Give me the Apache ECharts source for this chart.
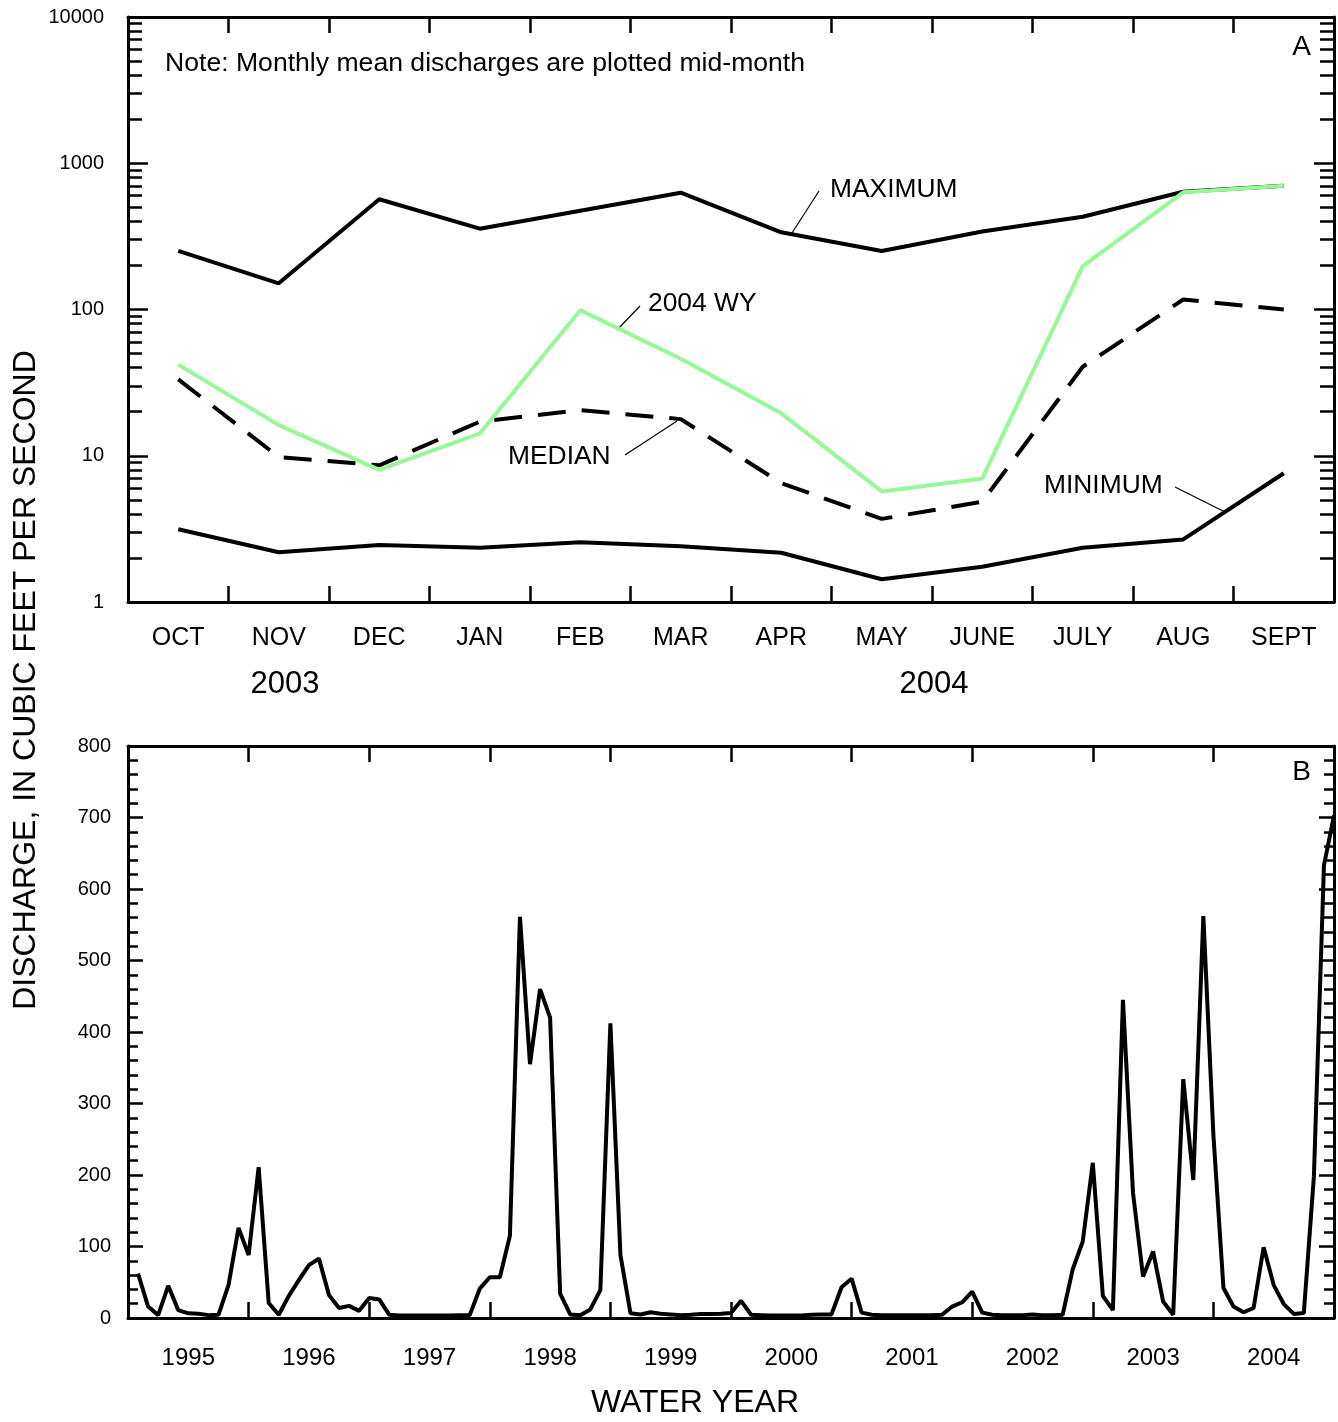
<!DOCTYPE html>
<html>
<head>
<meta charset="utf-8">
<script src="https://cdn.jsdelivr.net/npm/echarts@6/dist/echarts.min.js"></script>
<style>
html,body{margin:0;padding:0;background:#fff;}
#chart{width:1338px;height:1422px;}
</style>
</head>
<body>
<div id="chart"></div>
<script>
// ---------- DATA ----------
const months = ['OCT','NOV','DEC','JAN','FEB','MAR','APR','MAY','JUNE','JULY','AUG','SEPT'];
const maximum = [252, 151, 567, 357, 474, 629, 337, 251, 341, 431, 639, 703];
const wy2004  = [42, 16.2, 8.0, 14.2, 99, 46, 19.5, 5.7, 7.0, 198, 633, 703];
const median  = [33.3, 9.8, 8.6, 17.1, 20.5, 17.8, 6.5, 3.7, 4.85, 40.6, 117, 100];
const minimum = [3.14, 2.19, 2.45, 2.35, 2.56, 2.41, 2.17, 1.43, 1.74, 2.35, 2.68, 7.59];
const logMajorTicks = [1, 10, 100, 1000, 10000];
const logMinorTicks = [2,3,4,5,6,7,8,9, 20,30,40,50,60,70,80,90, 200,300,400,500,600,700,800,900, 2000,3000,4000,5000,6000,7000,8000,9000];

const waterYears = ['1995','1996','1997','1998','1999','2000','2001','2002','2003','2004'];
// Monthly mean discharge, Oct 1994 - Sep 2004 (one row per water year)
const monthlyDischarge = [
  62, 16, 4, 45, 11, 6.5, 6, 4, 4.5, 46, 126, 88,
  211, 21, 4.5, 31, 53, 74, 83, 32, 14, 17, 10, 28,
  26, 4.5, 3.5, 3.5, 3.5, 3.5, 3.5, 3.5, 4, 4, 41, 57,
  57, 115, 561, 355, 460, 420, 34, 5, 4, 12, 39, 412,
  88, 6.5, 5, 8, 6, 5, 4, 4.5, 5.5, 5.5, 6, 7,
  24, 4.5, 4, 3.5, 3.5, 3.5, 3.5, 4.5, 5, 5, 43, 55,
  7.5, 4.5, 4, 4, 4, 4, 4, 4, 4.5, 16, 22, 37,
  7.5, 4.5, 4, 4, 4, 5, 4, 4, 4.5, 68, 107, 217,
  31, 11, 445, 175, 58, 93, 23, 4.5, 334, 193, 562, 256,
  42, 16, 8, 14, 99, 46, 19.5, 5.7, 7, 198, 633, 703
];

// ---------- CHART ----------
const FONT = '"Liberation Sans", Arial, Helvetica, sans-serif';
const chart = echarts.init(document.getElementById('chart'), null, {renderer: 'canvas'});
const axLine = {show: true, onZero: false, lineStyle: {color: '#000', width: 3}};
const noLine = {show: false, onZero: false};
const tickStyle = {color: '#000', width: 2.5};
const LW = 4;

const seriesB = monthlyDischarge.map((v, i) => [i + 1, v]);

const option = {
  animation: false,
  backgroundColor: '#fff',
  textStyle: {fontFamily: FONT, color: '#000'},
  grid: [
    {left: 128, top: 17, width: 1206, height: 585, containLabel: false},
    {left: 128, top: 746, width: 1206, height: 572, containLabel: false}
  ],
  xAxis: [
    {gridIndex: 0, type: 'category', data: months, position: 'bottom', boundaryGap: true,
     axisLine: axLine, axisTick: {show: true, inside: true, length: 16, interval: 0, lineStyle: tickStyle},
     axisLabel: {show: true, interval: 0, fontSize: 25, color: '#000', fontFamily: FONT, margin: 24},
     splitLine: {show: false}},
    {gridIndex: 0, type: 'category', data: months, position: 'top', boundaryGap: true,
     axisLine: axLine, axisTick: {show: true, inside: true, length: 16, interval: 0, lineStyle: tickStyle},
     axisLabel: {show: false}, splitLine: {show: false}},
    {gridIndex: 1, type: 'value', min: 0, max: 120, interval: 12, position: 'bottom',
     axisLine: axLine, axisTick: {show: true, inside: true, length: 16, lineStyle: tickStyle},
     axisLabel: {show: false}, splitLine: {show: false}},
    {gridIndex: 1, type: 'value', min: 0, max: 120, interval: 12, position: 'top',
     axisLine: axLine, axisTick: {show: true, inside: true, length: 16, lineStyle: tickStyle},
     axisLabel: {show: false}, splitLine: {show: false}},
    {gridIndex: 1, type: 'category', data: waterYears, position: 'bottom', boundaryGap: true,
     axisLine: noLine, axisTick: {show: false},
     axisLabel: {show: true, interval: 0, fontSize: 24, color: '#000', fontFamily: FONT, margin: 28},
     splitLine: {show: false}}
  ],
  yAxis: [
    {gridIndex: 0, type: 'log', logBase: 10, min: 1, max: 10000, position: 'left',
     axisLine: axLine,
     axisTick: {show: true, inside: true, length: 20, lineStyle: tickStyle, customValues: logMajorTicks},
     axisLabel: {show: true, fontSize: 20, color: '#000', fontFamily: FONT, margin: 24,
                 customValues: logMajorTicks, formatter: v => String(Math.round(v))},
     splitLine: {show: false}},
    {gridIndex: 0, type: 'log', logBase: 10, min: 1, max: 10000, position: 'left',
     axisLine: noLine,
     axisTick: {show: true, inside: true, length: 14, lineStyle: tickStyle, customValues: logMinorTicks},
     axisLabel: {show: false}, splitLine: {show: false}},
    {gridIndex: 0, type: 'log', logBase: 10, min: 1, max: 10000, position: 'right',
     axisLine: axLine,
     axisTick: {show: true, inside: true, length: 20, lineStyle: tickStyle, customValues: logMajorTicks},
     axisLabel: {show: false}, splitLine: {show: false}},
    {gridIndex: 0, type: 'log', logBase: 10, min: 1, max: 10000, position: 'right',
     axisLine: noLine,
     axisTick: {show: true, inside: true, length: 14, lineStyle: tickStyle, customValues: logMinorTicks},
     axisLabel: {show: false}, splitLine: {show: false}},
    {gridIndex: 1, type: 'value', min: 0, max: 800, interval: 100, position: 'left',
     axisLine: axLine,
     axisTick: {show: true, inside: true, length: 15, lineStyle: tickStyle},
     minorTick: {show: true, splitNumber: 5, length: 10, lineStyle: {color: '#000', width: 2.5}},
     axisLabel: {show: true, fontSize: 20, color: '#000', fontFamily: FONT, margin: 17},
     splitLine: {show: false}, minorSplitLine: {show: false}},
    {gridIndex: 1, type: 'value', min: 0, max: 800, interval: 100, position: 'right',
     axisLine: axLine,
     axisTick: {show: true, inside: true, length: 15, lineStyle: tickStyle},
     minorTick: {show: true, splitNumber: 5, length: 10, lineStyle: {color: '#000', width: 2.5}},
     axisLabel: {show: false}, splitLine: {show: false}, minorSplitLine: {show: false}}
  ],
  series: [
    {name: 'MAXIMUM', type: 'line', xAxisIndex: 0, yAxisIndex: 0, data: maximum, symbol: 'none',
     lineStyle: {color: '#000', width: LW}, z: 2},
    {name: 'MINIMUM', type: 'line', xAxisIndex: 0, yAxisIndex: 0, data: minimum, symbol: 'none',
     lineStyle: {color: '#000', width: LW}, z: 2},
    {name: 'MEDIAN', type: 'line', xAxisIndex: 0, yAxisIndex: 0, data: median, symbol: 'none',
     lineStyle: {color: '#000', width: LW, type: [28, 16]}, z: 3},
    {name: '2004 WY', type: 'line', xAxisIndex: 0, yAxisIndex: 0, data: wy2004, symbol: 'none',
     lineStyle: {color: '#98F898', width: LW}, z: 4},
    {name: 'Monthly', type: 'line', xAxisIndex: 2, yAxisIndex: 4, data: seriesB, symbol: 'none',
     lineStyle: {color: '#000', width: LW}}
  ],
  graphic: [
    {type: 'text', x: 165, y: 64, style: {text: 'Note: Monthly mean discharges are plotted mid-month', font: '26.6px ' + FONT, fill: '#000', align: 'left', verticalAlign: 'middle'}},
    {type: 'text', x: 1311, y: 47, style: {text: 'A', font: '28px ' + FONT, fill: '#000', align: 'right', verticalAlign: 'middle'}},
    {type: 'text', x: 1311, y: 772, style: {text: 'B', font: '28px ' + FONT, fill: '#000', align: 'right', verticalAlign: 'middle'}},
    {type: 'text', x: 830, y: 190, style: {text: 'MAXIMUM', font: '26.4px ' + FONT, fill: '#000', align: 'left', verticalAlign: 'middle'}},
    {type: 'line', shape: {x1: 819, y1: 191, x2: 792, y2: 233}, style: {stroke: '#000', lineWidth: 1.2}},
    {type: 'text', x: 648, y: 304, style: {text: '2004 WY', font: '26.4px ' + FONT, fill: '#000', align: 'left', verticalAlign: 'middle'}},
    {type: 'line', shape: {x1: 640, y1: 306, x2: 617, y2: 330}, style: {stroke: '#000', lineWidth: 1.2}},
    {type: 'text', x: 508, y: 457, style: {text: 'MEDIAN', font: '26.4px ' + FONT, fill: '#000', align: 'left', verticalAlign: 'middle'}},
    {type: 'line', shape: {x1: 625, y1: 455, x2: 677, y2: 421}, style: {stroke: '#000', lineWidth: 1.2}},
    {type: 'text', x: 1044, y: 486, style: {text: 'MINIMUM', font: '26.4px ' + FONT, fill: '#000', align: 'left', verticalAlign: 'middle'}},
    {type: 'line', shape: {x1: 1175, y1: 487, x2: 1225, y2: 512}, style: {stroke: '#000', lineWidth: 1.2}},
    {type: 'text', x: 285, y: 684, style: {text: '2003', font: '31px ' + FONT, fill: '#000', align: 'center', verticalAlign: 'middle'}},
    {type: 'text', x: 934, y: 684, style: {text: '2004', font: '31px ' + FONT, fill: '#000', align: 'center', verticalAlign: 'middle'}},
    {type: 'text', x: 695, y: 1403, style: {text: 'WATER YEAR', font: '32px ' + FONT, fill: '#000', align: 'center', verticalAlign: 'middle'}},
    {type: 'text', x: 26, y: 680, rotation: Math.PI / 2, style: {text: 'DISCHARGE, IN CUBIC FEET PER SECOND', font: '32px ' + FONT, fill: '#000', align: 'center', verticalAlign: 'middle'}}
  ]
};
chart.setOption(option);
</script>
</body>
</html>
